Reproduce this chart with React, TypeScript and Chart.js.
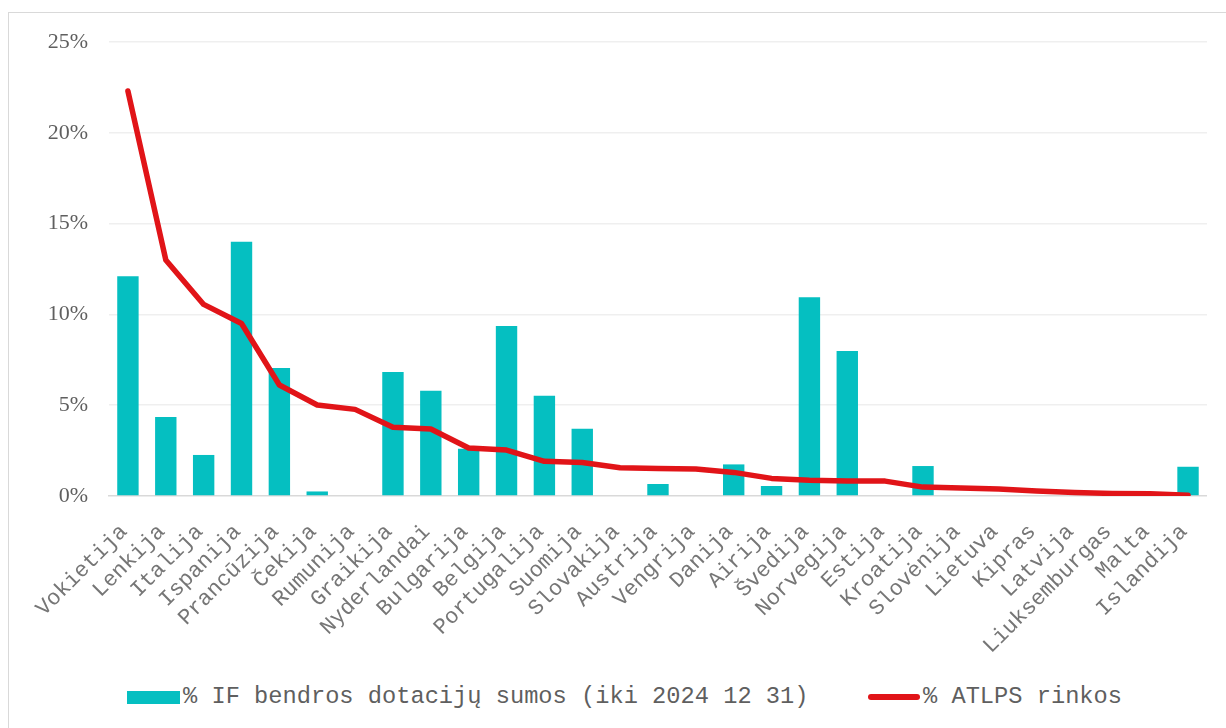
import React, { useEffect, useRef } from "react";
import { Chart, registerables } from "chart.js";

Chart.register(...registerables);

const categories = [
  "Vokietija", "Lenkija", "Italija", "Ispanija", "Prancūzija", "Čekija", "Rumunija",
  "Graikija", "Nyderlandai", "Bulgarija", "Belgija", "Portugalija", "Suomija", "Slovakija",
  "Austrija", "Vengrija", "Danija", "Airija", "Švedija", "Norvegija", "Estija", "Kroatija",
  "Slovėnija", "Lietuva", "Kipras", "Latvija", "Liuksemburgas", "Malta", "Islandija",
];

const ifShare = [
  12.1, 4.35, 2.26, 14.0, 7.05, 0.25, 0, 6.83, 5.8, 2.6, 9.36, 5.52, 3.71, 0,
  0.66, 0, 1.74, 0.55, 10.94, 7.98, 0, 1.65, 0, 0, 0, 0, 0, 0, 1.61,
];

const atlpsShare = [
  22.3, 13.0, 10.55, 9.5, 6.11, 5.01, 4.77, 3.78, 3.69, 2.64, 2.53, 1.91, 1.84, 1.56,
  1.51, 1.49, 1.3, 0.97, 0.87, 0.82, 0.82, 0.49, 0.44, 0.38, 0.27, 0.19, 0.14, 0.12, 0.04,
];

const yTicks = [0, 5, 10, 15, 20, 25];

const seriesNames = ["% IF bendros dotacijų sumos (iki 2024 12 31)", "% ATLPS rinkos"];

const TEAL = "#05BFC1";
const RED = "#E11418";
const TEXT = "#5F5F5F";
const XTEXT = "#767676";

export default function App() {
  const ref = useRef<HTMLCanvasElement | null>(null);

  useEffect(() => {
    if (!ref.current) return;
    const chart = new Chart(ref.current, {
      type: "bar",
      data: {
        labels: categories,
        datasets: [
          {
            type: "line",
            label: seriesNames[1],
            data: atlpsShare,
            borderColor: RED,
            backgroundColor: RED,
            borderWidth: 5.5,
            borderCapStyle: "round",
            borderJoinStyle: "round",
            pointRadius: 0,
            tension: 0,
            order: 0,
          } as any,
          {
            type: "bar",
            label: seriesNames[0],
            data: ifShare,
            backgroundColor: TEAL,
            categoryPercentage: 1,
            barPercentage: 0.565,
            order: 1,
          },
        ],
      },
      options: {
        animation: false,
        responsive: true,
        maintainAspectRatio: false,
        layout: { padding: { top: 42, right: 18, left: 0, bottom: 0 } },
        plugins: { legend: { display: false }, tooltip: { enabled: false } },
        scales: {
          x: {
            offset: true,
            grid: { display: false, drawTicks: false },
            border: { display: true, color: "#D9D9D9", width: 1.5 },
            ticks: {
              minRotation: 45,
              maxRotation: 45,
              autoSkip: false,
              padding: 23,
              labelOffset: -4,
              color: XTEXT,
              font: { family: "'Liberation Mono', monospace", size: 22 },
            },
            afterFit: (scale: any) => {
              scale.height = 164;
            },
          },
          y: {
            min: 0,
            max: 25,
            afterBuildTicks: (scale: any) => {
              scale.ticks = yTicks.map((v) => ({ value: v }));
            },
            grid: {
              drawTicks: false,
              color: (ctx: any) => (ctx.tick && ctx.tick.value === 0 ? "rgba(0,0,0,0)" : "#EFEFEF"),
              lineWidth: 1.5,
            },
            border: { display: false },
            ticks: {
              padding: 21,
              color: TEXT,
              font: { family: "'Liberation Serif', 'Times New Roman', serif", size: 22 },
              callback: (v: any) => `${v}%`,
            },
            afterFit: (scale: any) => {
              scale.width = 109;
            },
          },
        },
      },
    });
    return () => chart.destroy();
  }, []);

  return (
    <div
      style={{
        position: "fixed",
        left: 0,
        top: 0,
        width: 1226,
        height: 728,
        overflow: "hidden",
        background: "#fff",
      }}
    >
      <div
        style={{
          position: "absolute",
          left: 8,
          top: 12,
          width: 1260,
          height: 760,
          border: "1.5px solid #D9D9D9",
          boxSizing: "border-box",
        }}
      />
      <div style={{ position: "absolute", left: 0, top: 0, width: 1230, height: 660 }}>
        <canvas ref={ref} />
      </div>
      <div
        style={{
          position: "absolute",
          left: 0,
          top: 680,
          width: 1226,
          height: 34,
          fontFamily: "'Liberation Mono', monospace",
          fontSize: 23.7,
          color: TEXT,
        }}
      >
        <div
          style={{
            position: "absolute",
            left: 127,
            top: 11,
            width: 53,
            height: 13,
            background: TEAL,
          }}
        />
        <div style={{ position: "absolute", left: 183, top: 2, whiteSpace: "nowrap", lineHeight: "30px" }}>
          {seriesNames[0]}
        </div>
        <div
          style={{
            position: "absolute",
            left: 868,
            top: 14,
            width: 52,
            height: 6,
            borderRadius: 3,
            background: RED,
          }}
        />
        <div style={{ position: "absolute", left: 923, top: 2, whiteSpace: "nowrap", lineHeight: "30px" }}>
          {seriesNames[1]}
        </div>
      </div>
    </div>
  );
}
